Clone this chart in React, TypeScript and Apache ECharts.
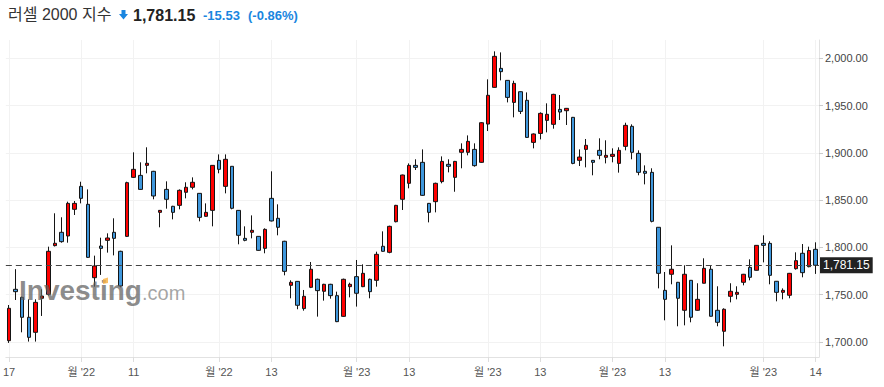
import React, { useEffect, useRef } from "react";
import * as echarts from "echarts";

// Trading days (categories)
const dates: string[] = [
  "2022-10-17","2022-10-18","2022-10-19","2022-10-20","2022-10-21","2022-10-24","2022-10-25","2022-10-26","2022-10-27","2022-10-28","2022-10-31",
  "2022-11-01","2022-11-02","2022-11-03","2022-11-04","2022-11-07","2022-11-08","2022-11-09","2022-11-10","2022-11-11","2022-11-14","2022-11-15","2022-11-16","2022-11-17","2022-11-18","2022-11-21","2022-11-22","2022-11-23","2022-11-25","2022-11-28","2022-11-29","2022-11-30",
  "2022-12-01","2022-12-02","2022-12-05","2022-12-06","2022-12-07","2022-12-08","2022-12-09","2022-12-12","2022-12-13","2022-12-14","2022-12-15","2022-12-16","2022-12-19","2022-12-20","2022-12-21","2022-12-22","2022-12-23","2022-12-27","2022-12-28","2022-12-29","2022-12-30",
  "2023-01-03","2023-01-04","2023-01-05","2023-01-06","2023-01-09","2023-01-10","2023-01-11","2023-01-12","2023-01-13","2023-01-17","2023-01-18","2023-01-19","2023-01-20","2023-01-23","2023-01-24","2023-01-25","2023-01-26","2023-01-27","2023-01-30","2023-01-31",
  "2023-02-01","2023-02-02","2023-02-03","2023-02-06","2023-02-07","2023-02-08","2023-02-09","2023-02-10","2023-02-13","2023-02-14","2023-02-15","2023-02-16","2023-02-17","2023-02-21","2023-02-22","2023-02-23","2023-02-24","2023-02-27","2023-02-28",
  "2023-03-01","2023-03-02","2023-03-03","2023-03-06","2023-03-07","2023-03-08","2023-03-09","2023-03-10","2023-03-13","2023-03-14","2023-03-15","2023-03-16","2023-03-17","2023-03-20","2023-03-21","2023-03-22","2023-03-23","2023-03-24","2023-03-27","2023-03-28","2023-03-29","2023-03-30","2023-03-31",
  "2023-04-03","2023-04-04","2023-04-05","2023-04-06","2023-04-10","2023-04-11","2023-04-12","2023-04-13","2023-04-14",
];

// [open, close, low, high]
const ohlc: number[][] = [
  [1701.4,1735.6,1699.0,1739.1],[1755.7,1753.2,1744.4,1777.0],[1747.2,1726.1,1710.2,1748.0],[1726.1,1704.9,1700.4,1745.1],
  [1710.2,1741.9,1700.4,1745.1],[1746.2,1748.6,1727.5,1755.7],[1750.4,1795.9,1749.0,1800.8],[1801.9,1804.4,1801.0,1836.1],
  [1816.0,1806.1,1805.0,1831.9],[1812.1,1846.6,1805.0,1848.4],[1840.3,1846.6,1834.3,1849.1],[1864.6,1851.9,1846.6,1869.5],
  [1845.6,1789.5,1789.0,1861.4],[1768.0,1780.4,1758.5,1791.3],[1801.5,1799.0,1770.9,1810.3],[1807.5,1810.0,1794.5,1814.9],
  [1816.0,1809.6,1791.6,1830.8],[1795.9,1759.2,1757.8,1796.5],[1811.7,1868.5,1811.0,1869.5],[1874.1,1882.6,1873.5,1900.6],
  [1876.2,1861.4,1861.0,1890.0],[1886.8,1889.0,1878.4,1905.9],[1880.5,1854.4,1850.9,1881.0],[1837.1,1839.2,1821.3,1839.5],
  [1861.4,1850.9,1841.0,1869.9],[1843.5,1837.1,1829.7,1844.0],[1844.5,1860.4,1840.3,1861.4],[1858.3,1863.6,1851.9,1868.9],
  [1863.6,1868.9,1861.4,1874.1],[1857.2,1831.8,1827.6,1857.5],[1832.9,1837.1,1832.5,1846.6],[1839.2,1886.8,1822.3,1887.0],
  [1892.1,1882.6,1878.4,1898.4],[1864.6,1893.2,1857.2,1898.4],[1885.8,1841.4,1840.3,1886.0],[1839.2,1812.8,1803.3,1839.5],
  [1809.6,1807.5,1806.5,1822.3],[1816.0,1818.1,1809.6,1833.9],[1811.7,1796.9,1796.5,1812.0],[1799.0,1819.1,1793.8,1820.2],
  [1851.9,1828.0,1827.5,1880.5],[1830.8,1821.3,1812.8,1845.6],[1806.5,1774.7,1770.5,1807.0],[1759.9,1763.1,1746.2,1765.2],
  [1764.1,1738.8,1734.6,1764.5],[1735.3,1748.3,1733.1,1755.0],[1757.8,1776.9,1757.0,1784.6],[1766.3,1754.3,1726.8,1767.0],
  [1753.6,1761.0,1743.7,1761.5],[1761.0,1749.0,1745.8,1761.5],[1749.0,1721.5,1721.0,1753.2],[1727.1,1766.3,1726.5,1767.0],
  [1758.5,1761.0,1747.2,1762.7],[1769.1,1751.5,1737.4,1786.7],[1758.5,1772.6,1758.0,1782.1],[1766.3,1753.2,1746.2,1767.0],
  [1765.2,1792.7,1758.5,1795.5],[1801.2,1795.9,1795.5,1817.0],[1794.8,1822.3,1793.8,1823.0],[1827.2,1844.5,1826.5,1845.0],
  [1850.9,1876.6,1839.6,1877.0],[1867.8,1886.8,1862.5,1888.9],[1886.8,1884.7,1881.9,1893.2],[1890.0,1855.1,1854.5,1903.7],
  [1846.6,1837.1,1826.5,1847.0],[1848.4,1867.8,1837.1,1868.5],[1869.6,1891.0,1867.8,1896.3],[1887.9,1885.8,1879.4,1893.2],
  [1874.1,1891.0,1858.9,1891.5],[1900.6,1903.7,1883.7,1910.1],[1900.6,1912.2,1897.4,1918.5],[1903.7,1886.5,1885.4,1910.1],
  [1890.0,1931.9,1889.5,1932.5],[1930.5,1960.9,1923.1,1977.8],[1969.3,2002.1,1969.0,2007.4],[1989.4,1985.9,1976.7,2006.3],
  [1976.7,1958.7,1953.4,1977.0],[1953.4,1973.5,1937.6,1976.3],[1964.7,1943.9,1941.1,1965.0],[1955.6,1916.4,1916.0,1964.0],
  [1911.1,1920.0,1904.8,1920.6],[1920.6,1941.8,1914.3,1942.9],[1934.4,1940.8,1921.7,1952.4],[1930.2,1961.9,1925.6,1962.5],
  [1946.0,1943.2,1934.8,1961.2],[1944.6,1947.1,1929.5,1947.5],[1937.6,1888.9,1888.0,1938.0],[1892.1,1895.6,1886.1,1903.7],
  [1903.7,1908.0,1884.7,1914.7],[1892.1,1890.0,1876.3,1892.5],[1902.7,1897.4,1893.2,1915.4],[1895.3,1897.4,1888.9,1913.3],
  [1896.3,1898.5,1890.0,1904.8],[1888.9,1902.7,1879.1,1905.9],[1906.9,1929.1,1902.7,1931.9],[1928.1,1900.6,1893.2,1930.2],
  [1899.5,1879.4,1876.3,1902.7],[1880.5,1878.4,1866.7,1886.8],[1879.4,1827.6,1826.5,1883.7],[1821.3,1772.6,1756.7,1821.5],
  [1754.6,1745.1,1722.9,1774.0],[1771.6,1776.9,1761.0,1802.2],[1763.1,1746.2,1716.6,1763.5],[1733.5,1771.6,1717.6,1781.1],
  [1765.2,1726.1,1720.8,1765.5],[1733.5,1745.1,1733.0,1762.1],[1762.1,1777.9,1762.0,1788.5],[1776.9,1727.2,1727.0,1781.1],
  [1733.5,1720.8,1716.6,1758.9],[1711.3,1734.6,1695.4,1735.6],[1748.3,1753.6,1741.9,1762.1],[1750.4,1752.5,1745.1,1758.9],
  [1763.1,1771.6,1759.9,1772.0],[1778.9,1768.4,1765.2,1787.4],[1775.8,1802.2,1775.5,1802.5],[1804.3,1802.2,1784.2,1812.8],
  [1804.3,1770.5,1761.0,1806.5],[1764.2,1752.5,1743.0,1764.5],[1752.5,1754.6,1745.1,1756.7],[1749.4,1772.6,1746.2,1773.0],
  [1777.5,1786.0,1776.5,1794.8],[1793.8,1773.3,1768.4,1803.6],[1779.6,1796.68,1779.0,1800.8],[1798.0,1781.15,1772.0,1805.4],
];

const tickDates: string[] = [
  "2022-10-17","2022-11-01","2022-11-11","2022-12-01","2022-12-13","2023-01-03","2023-01-13",
  "2023-02-01","2023-02-13","2023-03-01","2023-03-13","2023-04-03","2023-04-14",
];
const tickLabels: string[] = ["17","월 '22","11","월 '22","13","월 '23","13","월 '23","13","월 '23","13","월 '23","14"];
const yTicks: number[] = [1700, 1750, 1800, 1850, 1900, 1950, 2000];

const title = "러셀 2000 지수";
const lastPrice = ohlc[ohlc.length - 1][1];
const change = -15.53;
const changePct = -0.86;

const FONT = "'Liberation Sans', Arial, 'Noto Sans CJK KR', sans-serif";
const fmt = (v: number) =>
  v.toLocaleString("en-US", { minimumFractionDigits: 2, maximumFractionDigits: 2 });

export default function App() {
  const ref = useRef<HTMLDivElement>(null);
  useEffect(() => {
    if (!ref.current) return;
    const chart = echarts.init(ref.current, undefined, { renderer: "svg" });
    const labelByDate: Record<string, string> = {};
    tickDates.forEach((d, i) => (labelByDate[d] = tickLabels[i]));
    const tickIdx = new Set(tickDates.map((d) => dates.indexOf(d)));
    const showIdx = (i: number) => tickIdx.has(i);

    chart.setOption({
      animation: false,
      backgroundColor: "#ffffff",
      grid: { left: 5, right: 65, top: 40, bottom: 30 },
      xAxis: {
        type: "category",
        data: dates,
        boundaryGap: true,
        axisLine: { show: true, lineStyle: { color: "#e2e2e2" } },
        axisTick: { show: true, alignWithLabel: true, interval: showIdx, length: 5, lineStyle: { color: "#dddddd" } },
        axisLabel: {
          interval: showIdx,
          formatter: (v: string) => labelByDate[v] || "",
          color: "#555",
          fontSize: 11,
          fontFamily: FONT,
          margin: 9,
        },
        splitLine: { show: true, interval: showIdx, alignWithLabel: true, lineStyle: { color: "#f2f2f2" } },
      },
      yAxis: {
        type: "value",
        position: "right",
        min: 1684.1,
        max: 2019.4,
        axisLine: { show: true, lineStyle: { color: "#e2e2e2" } },
        axisTick: { show: true, length: 4, customValues: yTicks, lineStyle: { color: "#cccccc" } },
        axisLabel: {
          customValues: yTicks,
          formatter: (v: number) => fmt(v),
          color: "#444",
          fontSize: 11,
          fontFamily: FONT,
          margin: 6,
        },
        splitLine: { show: true, lineStyle: { color: "#f2f2f2" } },
      },
      series: [
        {
          type: "candlestick",
          data: ohlc,
          barWidth: 4,
          itemStyle: {
            color: "#ff0000",
            color0: "#3f97dc",
            borderColor: "#151515",
            borderColor0: "#151515",
            borderWidth: 1,
          },
          markLine: {
            silent: true,
            symbol: ["none", "none"],
            lineStyle: { color: "#444", type: [6, 4], width: 1 },
            label: {
              show: true,
              position: "end",
              distance: 1,
              formatter: () => fmt(lastPrice),
              backgroundColor: "#222222",
              color: "#ffffff",
              fontSize: 12,
              fontFamily: FONT,
              lineHeight: 14,
              padding: [1, 3, 1, 3],
            },
            data: [{ yAxis: lastPrice }],
          },
        },
      ],
      graphic: [
        {
          type: "text", left: 8, top: 6, silent: true,
          style: { text: title, font: `16px ${FONT}`, fill: "#333" },
        },
        {
          type: "polygon", silent: true,
          shape: { points: [[121.5, 10], [125.5, 10], [125.5, 14], [128, 14], [123.5, 19.5], [119, 14], [121.5, 14]] },
          style: { fill: "#1a86e0" },
        },
        {
          type: "text", left: 133, top: 7, silent: true,
          style: { text: fmt(lastPrice), font: `bold 16px ${FONT}`, fill: "#222" },
        },
        {
          type: "text", left: 203, top: 9, silent: true,
          style: { text: change.toFixed(2), font: `bold 13px ${FONT}`, fill: "#1a86e0" },
        },
        {
          type: "text", left: 248, top: 9, silent: true,
          style: { text: `(${changePct.toFixed(2)}%)`, font: `bold 13px ${FONT}`, fill: "#1a86e0" },
        },
        {
          type: "text", left: 19, top: 276, silent: true, z: 100,
          style: { text: "Investing", font: `bold 28px ${FONT}`, fill: "rgba(95,95,95,0.72)" },
        },
        {
          type: "text", left: 142, top: 283, silent: true, z: 100,
          style: { text: ".com", font: `20px ${FONT}`, fill: "rgba(105,105,105,0.6)" },
        },
        {
          type: "polygon", silent: true, z: 101,
          shape: { points: [[103, 279], [108, 277.5], [108, 283], [103, 284]] },
          style: { fill: "rgba(250,175,60,0.8)" },
        },
      ],
    });
    return () => chart.dispose();
  }, []);
  return (
    <div
      ref={ref}
      style={{ position: "absolute", left: 0, top: 0, width: 884, height: 387 }}
    />
  );
}
